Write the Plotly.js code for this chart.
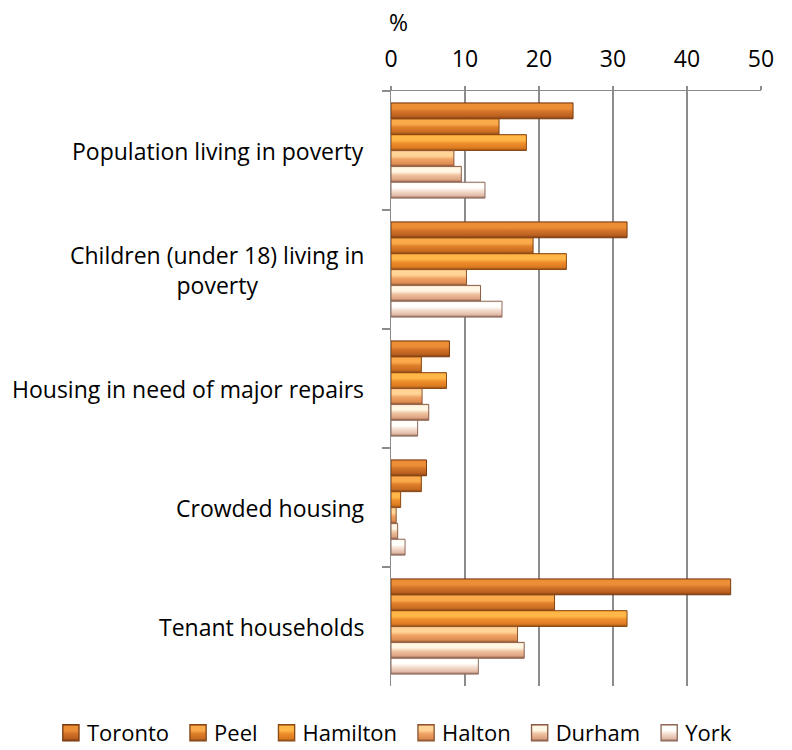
<!DOCTYPE html>
<html>
<head>
<meta charset="utf-8">
<script src="https://cdn.plot.ly/plotly-3.0.1.min.js"></script>
<style>
  html, body { margin: 0; padding: 0; background: #ffffff; }
  #chart { width: 792px; height: 750px; }
</style>
</head>
<body>
<div id="chart"></div>
<script>
// ---- data ----
var categories = [
  "Population living in poverty",
  "Children (under 18) living in poverty",
  "Housing in need of major repairs",
  "Crowded housing",
  "Tenant households"
];
var categoryLabels = [
  "Population living in poverty",
  "Children (under 18) living in<br>poverty",
  "Housing in need of major repairs",
  "Crowded housing",
  "Tenant households"
];
var seriesNames = ["Toronto", "Peel", "Hamilton", "Halton", "Durham", "York"];
var toronto  = [24.6, 31.9, 7.9, 4.8, 45.9];
var peel     = [14.6, 19.2, 4.1, 4.1, 22.1];
var hamilton = [18.3, 23.7, 7.5, 1.3, 31.9];
var halton   = [8.5, 10.2, 4.2, 0.7, 17.1];
var durham   = [9.5, 12.1, 5.1, 0.9, 18.0];
var york     = [12.7, 15.0, 3.6, 1.9, 11.8];
var xTicks = [0, 10, 20, 30, 40, 50];

var seriesValues = [toronto, peel, hamilton, halton, durham, york];

// styles: [highlight, mid, main, dark edge]
var palette = [
  ["#EC8E36", "#D2732A", "#B95F1E", "#7A3A10"],
  ["#FAAA4A", "#DF7F2A", "#C86C22", "#844414"],
  ["#FFB848", "#EE8E2C", "#DB7A20", "#8C4B14"],
  ["#FFD496", "#F1A366", "#DE8C50", "#8E5530"],
  ["#FFF6E4", "#F0C4A2", "#DDA282", "#8A5E48"],
  ["#FFFFFC", "#F6E0D2", "#E2B9A6", "#8E6A5C"]
];

var font = "'Open Sans', 'Noto Sans', sans-serif";

var traces = seriesNames.map(function (name, i) {
  return {
    type: "bar",
    orientation: "h",
    name: name,
    y: categories,
    x: seriesValues[i],
    marker: { color: palette[i][2], line: { color: palette[i][3], width: 1 } },
    hoverinfo: "x+name"
  };
});

var annotations = categories.map(function (c, i) {
  return {
    xref: "paper", yref: "y",
    x: -0.068, y: c,
    xanchor: "right", yanchor: "middle",
    align: "center",
    text: categoryLabels[i],
    showarrow: false,
    font: { family: font, size: 23, color: "#000000" }
  };
});
annotations.push({
  xref: "paper", yref: "paper",
  x: -0.012, y: 1.116,
  xanchor: "left", yanchor: "middle",
  text: "%",
  showarrow: false,
  font: { family: font, size: 23, color: "#000000" }
});

var layout = {
  width: 792,
  height: 750,
  paper_bgcolor: "#ffffff",
  plot_bgcolor: "#ffffff",
  margin: { l: 391, r: 31, t: 91, b: 64, pad: 0, autoexpand: false },
  barmode: "group",
  bargap: 0.2,
  bargroupgap: 0,
  showlegend: true,
  legend: {
    orientation: "h",
    xref: "paper", yref: "paper",
    x: -0.93, xanchor: "left",
    y: -0.079, yanchor: "middle",
    font: { family: font, size: 22, color: "#000000" },
    itemwidth: 30,
    traceorder: "normal",
    tracegroupgap: 0,
    bgcolor: "rgba(0,0,0,0)"
  },
  xaxis: {
    side: "top",
    range: [0, 50],
    tickvals: xTicks,
    ticktext: xTicks.map(String),
    showgrid: true,
    gridcolor: "#8c8c8c",
    gridwidth: 1.5,
    zeroline: false,
    showline: true,
    linecolor: "#8c8c8c",
    linewidth: 1.5,
    ticks: "outside",
    ticklen: 4,
    tickcolor: "#8c8c8c",
    tickwidth: 1.5,
    ticklabelstandoff: 9,
    tickfont: { family: font, size: 23, color: "#000000" },
    fixedrange: true
  },
  yaxis: {
    type: "category",
    autorange: "reversed",
    showticklabels: false,
    ticks: "outside",
    tickson: "boundaries",
    ticklen: 8,
    tickcolor: "#8c8c8c",
    tickwidth: 1.5,
    showline: true,
    linecolor: "#8c8c8c",
    linewidth: 1.5,
    showgrid: false,
    zeroline: false,
    fixedrange: true
  },
  annotations: annotations
};

Plotly.newPlot("chart", traces, layout, { displayModeBar: false, staticPlot: true }).then(function (gd) {
  // add bevel-like gradients to bars and legend symbols
  var svg = gd.querySelector("svg.main-svg");
  var ns = "http://www.w3.org/2000/svg";
  var defs = document.createElementNS(ns, "defs");
  palette.forEach(function (p, i) {
    var g = document.createElementNS(ns, "linearGradient");
    g.setAttribute("id", "bevel" + i);
    g.setAttribute("x1", "0"); g.setAttribute("y1", "0");
    g.setAttribute("x2", "0"); g.setAttribute("y2", "1");
    [[0, p[1]], [0.1, p[0]], [0.35, p[0]], [0.55, p[1]], [0.85, p[2]], [1, p[3]]].forEach(function (s) {
      var st = document.createElementNS(ns, "stop");
      st.setAttribute("offset", s[0]);
      st.setAttribute("stop-color", s[1]);
      g.appendChild(st);
    });
    defs.appendChild(g);
  });
  svg.insertBefore(defs, svg.firstChild);
  var barTraces = gd.querySelectorAll(".barlayer .trace.bars");
  barTraces.forEach(function (t, i) {
    t.querySelectorAll("path").forEach(function (p) { p.style.fill = "url(#bevel" + i + ")"; });
  });
  var legendPts = gd.querySelectorAll(".legend .traces");
  legendPts.forEach(function (t, i) {
    t.querySelectorAll(".legendpoints path").forEach(function (p) {
      p.style.fill = "url(#bevel" + i + ")";
      var tr = p.getAttribute("transform") || "";
      p.setAttribute("transform", tr + " translate(4,0) scale(1.35)");
    });
  });
});
</script>
</body>
</html>
